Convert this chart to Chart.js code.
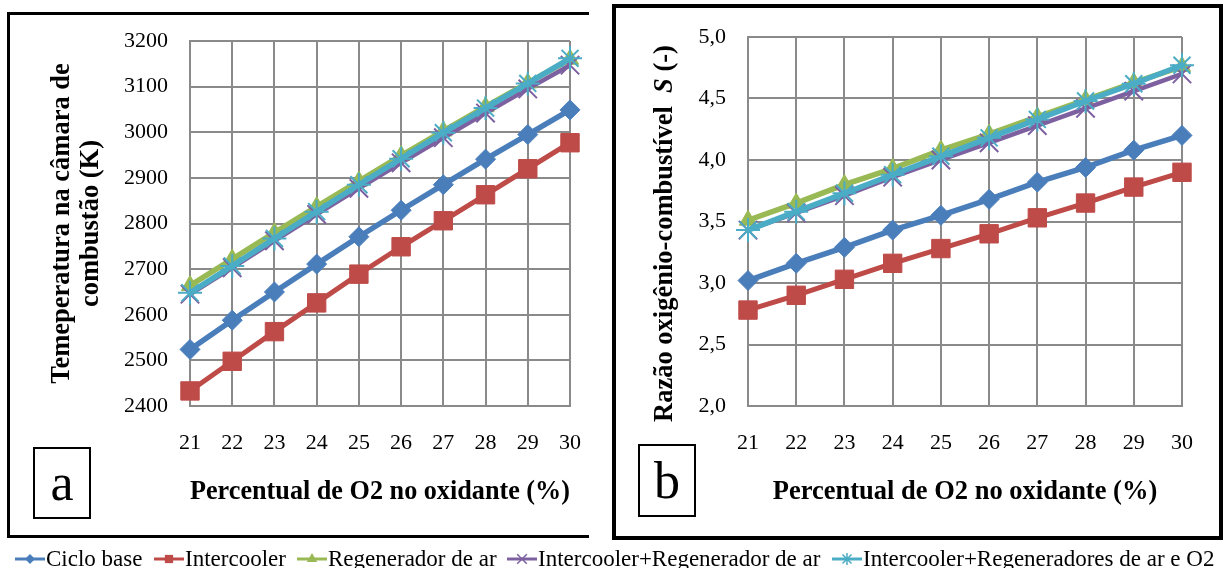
<!DOCTYPE html>
<html>
<head>
<meta charset="utf-8">
<script src="https://cdn.jsdelivr.net/npm/chart.js@4.4.1/dist/chart.umd.min.js"></script>
<style>
html,body{margin:0;padding:0;background:#fff;}
body{width:1224px;height:568px;position:relative;overflow:hidden;font-family:'Liberation Serif','Times New Roman',serif;}
.panelA{position:absolute;left:7px;top:12px;width:582px;height:526px;border-top:3px solid #000;border-left:3px solid #000;border-bottom:3px solid #000;box-sizing:border-box;}
.panelB{position:absolute;left:612px;top:4px;width:611px;height:536px;border:4px solid #000;box-sizing:border-box;}
.tag{position:absolute;border:2px solid #000;box-sizing:border-box;text-align:center;font-size:52px;color:#000;background:#fff;}
#tagA{left:33px;top:447px;width:58px;height:72px;line-height:68px;}
#tagB{left:638px;top:444px;width:58px;height:73px;line-height:69px;}
canvas.chart{position:absolute;top:0;}
#cA{left:0;}
#cB{left:610px;}
.leg{position:absolute;top:548px;height:22px;line-height:22px;font-size:23px;color:#000;white-space:nowrap;}
.leg canvas{position:absolute;left:0;top:0;}
.leg span{position:absolute;left:31px;top:0;}
</style>
</head>
<body>
<div class="panelA"></div>
<div class="panelB"></div>
<canvas id="cA" class="chart" width="605" height="540"></canvas>
<canvas id="cB" class="chart" width="614" height="540"></canvas>
<div class="tag" id="tagA">a</div>
<div class="tag" id="tagB">b</div>
<div id="legend"></div>
<script>
// ---------- data ----------
const xLabels = ['21', '22', '23', '24', '25', '26', '27', '28', '29', '30'];
const seriesNames = ['Ciclo base', 'Intercooler', 'Regenerador de ar', 'Intercooler+Regenerador de ar', 'Intercooler+Regeneradores de ar e O2'];

const tempCicloBase = [2524, 2588, 2650, 2711, 2771, 2829, 2885, 2941, 2995, 3049];
const tempIntercooler = [2433, 2498, 2563, 2626, 2689, 2749, 2806, 2863, 2920, 2977];
const tempRegenerador = [2664, 2722, 2780, 2837, 2893, 2949, 3003, 3056, 3108, 3160];
const tempIcRegenerador = [2645, 2703, 2762, 2820, 2877, 2933, 2988, 3042, 3095, 3147];
const tempIcRegeneradoresO2 = [2648, 2707, 2767, 2826, 2885, 2942, 2999, 3053, 3107, 3162];

const ratioCicloBase = [3.02, 3.16, 3.29, 3.43, 3.55, 3.68, 3.82, 3.94, 4.08, 4.20];
const ratioIntercooler = [2.78, 2.90, 3.03, 3.16, 3.28, 3.40, 3.53, 3.65, 3.78, 3.90];
const ratioRegenerador = [3.51, 3.65, 3.80, 3.93, 4.08, 4.21, 4.35, 4.49, 4.63, 4.76];
const ratioIcRegenerador = [3.43, 3.57, 3.71, 3.86, 4.00, 4.14, 4.28, 4.42, 4.56, 4.70];
const ratioIcRegeneradoresO2 = [3.43, 3.58, 3.73, 3.88, 4.03, 4.18, 4.33, 4.48, 4.62, 4.77];

const tempTickValues = [2400, 2500, 2600, 2700, 2800, 2900, 3000, 3100, 3200];
const tempTickLabels = ['2400', '2500', '2600', '2700', '2800', '2900', '3000', '3100', '3200'];
const ratioTickValues = [2.0, 2.5, 3.0, 3.5, 4.0, 4.5, 5.0];
const ratioTickLabels = ['2,0', '2,5', '3,0', '3,5', '4,0', '4,5', '5,0'];

const xTitle = 'Percentual de O2 no oxidante (%)';
const yTitleA = ['Temeperatura na câmara de', 'combustão (K)'];
const yTitleB = ['Razão oxigênio-combustível  ', 'S', ' (-)'];

// ---------- styles ----------
const FONT = "'Liberation Serif', 'Times New Roman', serif";
const seriesStyles = [
  { color: '#4A7EBB', point: 'rectRot', radius: 10, pbw: 1, lw: 5.5, order: 5 },
  { color: '#BE4B48', point: 'rect', radius: 13, pbw: 1, lw: 5, order: 4 },
  { color: '#98B954', point: 'triangle', radius: 10, pbw: 1, lw: 5.5, order: 3 },
  { color: '#7D60A0', point: 'crossRot', radius: 13, pbw: 2, lw: 4.5, order: 2 },
  { color: '#4BACC6', point: 'star', radius: 12, pbw: 2, lw: 5.5, order: 1 }
];
const GRID = '#8a8a8a';

function makeDatasets(arrays) {
  return arrays.map((d, i) => {
    const s = seriesStyles[i];
    return {
      label: seriesNames[i], data: d, order: s.order,
      borderColor: s.color, backgroundColor: s.color, borderWidth: s.lw,
      pointStyle: s.point, pointRadius: s.radius, pointHoverRadius: s.radius,
      pointBackgroundColor: s.color, pointBorderColor: s.color, pointBorderWidth: s.pbw,
      tension: 0, clip: false
    };
  });
}

function xScale() {
  return {
    type: 'category', labels: xLabels, offset: false,
    grid: { color: GRID, lineWidth: 2, drawTicks: false },
    border: { color: GRID, width: 2 },
    ticks: { color: '#000', font: { family: FONT, size: 22 }, padding: 24, maxRotation: 0, autoSkip: false },
    title: { display: true, text: xTitle, color: '#000', font: { family: FONT, size: 26.5, weight: 'bold', lineHeight: 1.2 }, padding: { top: 0, bottom: 32 } },
    afterFit: (s) => { s.height = 134; }
  };
}

function yScale(min, max, values, labels, width, title) {
  return {
    min: min, max: max,
    grid: { color: GRID, lineWidth: 2, drawTicks: false },
    border: { color: GRID, width: 2 },
    afterBuildTicks: (s) => { s.ticks = values.map(v => ({ value: v })); },
    ticks: { color: '#000', font: { family: FONT, size: 22 }, padding: 22, callback: (v, i) => labels[i] },
    title: title,
    afterFit: (s) => { s.width = width; }
  };
}

const commonPlugins = { legend: { display: false }, tooltip: { enabled: false } };

new Chart(document.getElementById('cA'), {
  type: 'line',
  data: { labels: xLabels, datasets: makeDatasets([tempCicloBase, tempIntercooler, tempRegenerador, tempIcRegenerador, tempIcRegeneradoresO2]) },
  options: {
    responsive: false, animation: false, devicePixelRatio: 1,
    layout: { padding: { left: 0, top: 41, right: 30, bottom: 0 } },
    plugins: commonPlugins,
    scales: {
      x: xScale(),
      y: yScale(2400, 3200, tempTickValues, tempTickLabels, 190,
        { display: true, text: yTitleA, color: '#000', font: { family: FONT, size: 26.5, weight: 'bold', lineHeight: 1.12 }, padding: { top: 47, bottom: 0 } })
    }
  }
});

const ratioTitlePlugin = {
  id: 'ratioTitle',
  afterDraw(chart) {
    const ctx = chart.ctx;
    const fonts = ["bold 26.5px " + FONT, "italic bold 26.5px " + FONT, "bold 26.5px " + FONT];
    ctx.save();
    const widths = yTitleB.map((t, i) => { ctx.font = fonts[i]; return ctx.measureText(t).width; });
    const total = widths.reduce((a, b) => a + b, 0);
    const ya = chart.scales.y;
    ctx.translate(ya.left + 55, (chart.chartArea.top + chart.chartArea.bottom) / 2 + 12);
    ctx.rotate(-Math.PI / 2);
    ctx.textBaseline = 'middle'; ctx.textAlign = 'left'; ctx.fillStyle = '#000';
    let x = -total / 2;
    yTitleB.forEach((t, i) => { ctx.font = fonts[i]; ctx.fillText(t, x, 0); x += widths[i]; });
    ctx.restore();
  }
};

new Chart(document.getElementById('cB'), {
  type: 'line',
  data: { labels: xLabels, datasets: makeDatasets([ratioCicloBase, ratioIntercooler, ratioRegenerador, ratioIcRegenerador, ratioIcRegeneradoresO2]) },
  options: {
    responsive: false, animation: false, devicePixelRatio: 1,
    layout: { padding: { left: 0, top: 37, right: 42, bottom: 0 } },
    plugins: commonPlugins,
    scales: {
      x: xScale(),
      y: yScale(2.0, 5.0, ratioTickValues, ratioTickLabels, 138, { display: false })
    }
  },
  plugins: [ratioTitlePlugin]
});

// ---------- legend (HTML) ----------
const legendLefts = [15, 154, 297, 507, 832];
const legendMarkerR = [5, 5.5, 6, 6, 6];
const legend = document.getElementById('legend');
seriesNames.forEach((name, i) => {
  const s = seriesStyles[i];
  const item = document.createElement('div');
  item.className = 'leg';
  item.style.left = legendLefts[i] + 'px';
  const c = document.createElement('canvas');
  c.width = 30; c.height = 22;
  const g = c.getContext('2d');
  g.strokeStyle = s.color; g.fillStyle = s.color; g.lineWidth = 3;
  g.beginPath(); g.moveTo(0, 11); g.lineTo(30, 11); g.stroke();
  const r = legendMarkerR[i], cx = 15, cy = 11;
  g.lineWidth = 1.5;
  g.beginPath();
  if (s.point === 'rectRot') { g.moveTo(cx, cy - r); g.lineTo(cx + r, cy); g.lineTo(cx, cy + r); g.lineTo(cx - r, cy); g.closePath(); g.fill(); }
  else if (s.point === 'rect') { g.rect(cx - r * 0.75, cy - r * 0.75, r * 1.5, r * 1.5); g.fill(); }
  else if (s.point === 'triangle') { g.moveTo(cx, cy - r); g.lineTo(cx + r * 0.87, cy + r * 0.5); g.lineTo(cx - r * 0.87, cy + r * 0.5); g.closePath(); g.fill(); }
  else if (s.point === 'crossRot') { const d = r * 0.8; g.moveTo(cx - d, cy - d); g.lineTo(cx + d, cy + d); g.moveTo(cx + d, cy - d); g.lineTo(cx - d, cy + d); g.stroke(); }
  else { const d = r * 0.75; g.moveTo(cx - d, cy - d); g.lineTo(cx + d, cy + d); g.moveTo(cx + d, cy - d); g.lineTo(cx - d, cy + d); g.moveTo(cx, cy - r); g.lineTo(cx, cy + r); g.stroke(); }
  item.appendChild(c);
  const sp = document.createElement('span');
  sp.textContent = name;
  item.appendChild(sp);
  legend.appendChild(item);
});
</script>
</body>
</html>
